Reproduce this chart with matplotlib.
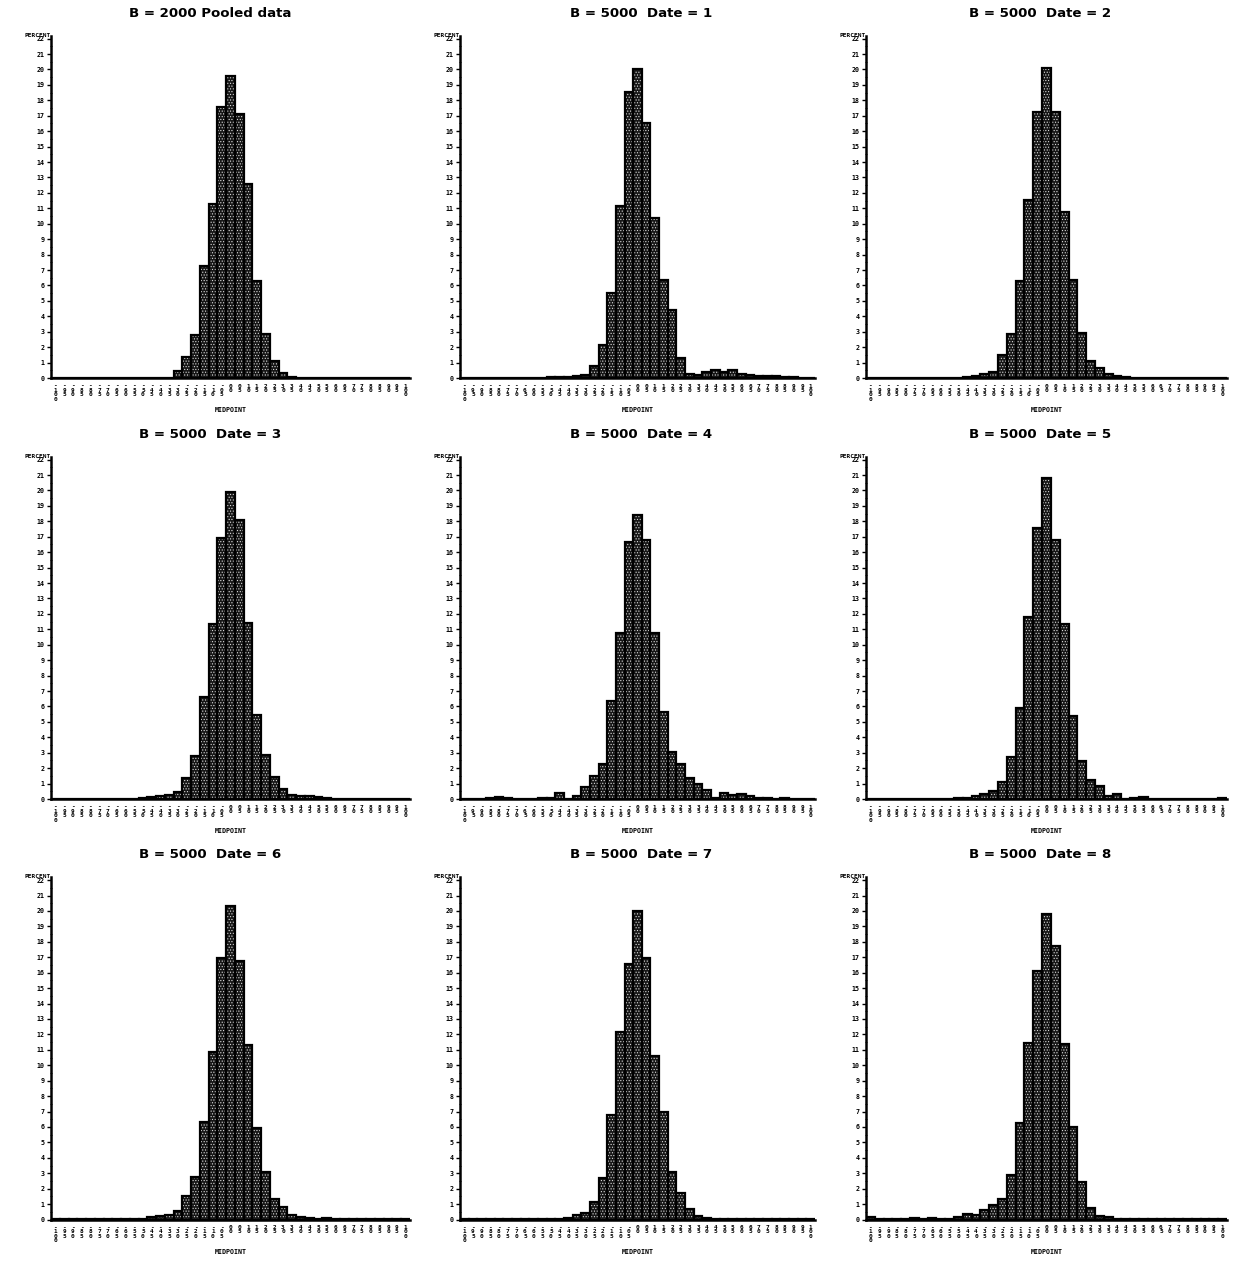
import matplotlib
matplotlib.use("Agg")
import matplotlib.pyplot as plt
from matplotlib.ticker import MultipleLocator

# Histogram bin midpoints shared by every panel
midpoints = [-100, -95, -90, -85, -80, -75, -70, -65, -60, -55,
             -50, -45, -40, -35, -30, -25, -20, -15, -10, -5,
             0,
             5, 10, 15, 20, 25, 30, 35, 40, 45, 50,
             55, 60, 65, 70, 75, 80, 85, 90, 95, 100]

# Percent of bootstrap replicates falling in each bin
pooled = [0, 0, 0, 0, 0, 0, 0, 0, 0, 0,
          0, 0, 0, 0.03, 0.47, 1.37, 2.78, 7.26, 11.26, 17.56,
          19.60,
          17.10, 12.60, 6.28, 2.82, 1.07, 0.32, 0.05, 0, 0, 0,
          0, 0, 0, 0, 0, 0, 0, 0, 0, 0]

date1 = [0.01, 0.01, 0.01, 0.02, 0.02, 0.02, 0.02, 0.02, 0.02, 0.03,
         0.05, 0.05, 0.08, 0.15, 0.18, 0.75, 2.16, 5.50, 11.16, 18.55,
         20.00,
         16.50, 10.40, 6.36, 4.42, 1.29, 0.28, 0.17, 0.39, 0.52, 0.41,
         0.50, 0.28, 0.19, 0.15, 0.13, 0.11, 0.05, 0.05, 0.03, 0.02]

date2 = [0.01, 0.01, 0.01, 0.01, 0.02, 0.02, 0.02, 0.02, 0.02, 0.02,
         0.03, 0.05, 0.15, 0.28, 0.41, 1.52, 2.84, 6.31, 11.55, 17.24,
         20.10,
         17.24, 10.78, 6.37, 2.91, 1.11, 0.62, 0.23, 0.13, 0.05, 0.03,
         0.02, 0.02, 0.02, 0.02, 0.02, 0.01, 0.01, 0.01, 0.01, 0.01]

date3 = [0.01, 0.02, 0.01, 0.01, 0.01, 0.01, 0.01, 0.01, 0.01, 0.02,
         0.05, 0.10, 0.17, 0.26, 0.47, 1.33, 2.78, 6.64, 11.35, 16.94,
         19.87,
         18.10, 11.41, 5.44, 2.85, 1.41, 0.66, 0.28, 0.17, 0.20, 0.15,
         0.05, 0.03, 0.03, 0.03, 0.02, 0.02, 0.02, 0.02, 0.02, 0.02]

date4 = [0.02, 0.02, 0.03, 0.06, 0.12, 0.08, 0.03, 0.02, 0.02, 0.06,
         0.08, 0.41, 0.02, 0.17, 0.79, 1.47, 2.24, 6.35, 10.79, 16.67,
         18.38,
         16.80, 10.75, 5.66, 3.03, 2.24, 1.39, 1.00, 0.60, 0.09, 0.41,
         0.23, 0.34, 0.17, 0.04, 0.08, 0.03, 0.06, 0.03, 0.03, 0.03]

date5 = [0.02, 0.02, 0.02, 0.03, 0.02, 0.02, 0.02, 0.02, 0.02, 0.03,
         0.05, 0.08, 0.17, 0.34, 0.51, 1.10, 2.72, 5.87, 11.79, 17.55,
         20.83,
         16.79, 11.34, 5.40, 2.49, 1.23, 0.87, 0.19, 0.32, 0.02, 0.04,
         0.15, 0.03, 0.02, 0.02, 0.02, 0.02, 0.02, 0.02, 0.02, 0.05]

date6 = [0.02, 0.02, 0.02, 0.02, 0.02, 0.02, 0.02, 0.02, 0.02, 0.03,
         0.06, 0.13, 0.21, 0.32, 0.53, 1.53, 2.77, 6.32, 10.87, 16.98,
         20.30,
         16.74, 11.30, 5.94, 3.10, 1.32, 0.81, 0.26, 0.19, 0.10, 0.04,
         0.10, 0.03, 0.03, 0.03, 0.03, 0.03, 0.03, 0.03, 0.03, 0.05]

date7 = [0.02, 0.02, 0.02, 0.02, 0.02, 0.02, 0.02, 0.02, 0.02, 0.02,
         0.02, 0.03, 0.10, 0.30, 0.43, 1.15, 2.69, 6.77, 12.14, 16.54,
         20.02,
         16.92, 10.58, 6.94, 3.06, 1.71, 0.66, 0.21, 0.10, 0.04, 0.03,
         0.03, 0.02, 0.02, 0.02, 0.02, 0.02, 0.02, 0.02, 0.02, 0.02]

date8 = [0.15, 0.03, 0.03, 0.03, 0.02, 0.08, 0.03, 0.10, 0.06, 0.04,
         0.15, 0.38, 0.26, 0.64, 0.91, 1.30, 2.87, 6.28, 11.43, 16.13,
         19.83,
         17.70, 11.38, 6.02, 2.43, 0.74, 0.23, 0.15, 0.06, 0.03, 0.03,
         0.02, 0.02, 0.02, 0.02, 0.02, 0.02, 0.02, 0.02, 0.01, 0.01]

titles = ["B = 2000 Pooled data",
          "B = 5000  Date = 1", "B = 5000  Date = 2", "B = 5000  Date = 3",
          "B = 5000  Date = 4", "B = 5000  Date = 5", "B = 5000  Date = 6",
          "B = 5000  Date = 7", "B = 5000  Date = 8"]
series = [pooled, date1, date2, date3, date4, date5, date6, date7, date8]

y_ticks = list(range(0, 23))


def stacked(v):
    """Midpoint label written one character per line."""
    s = f"{abs(v):02d}"
    if v < 0:
        s = "-" + s
    return "\n".join(s)


# Figure geometry in pixels
W, H, DPI = 1233, 1261, 100
col_left = [51, 460, 866]
col_width = [359, 355, 361]
row_base = [378, 799, 1219.5]
ax_height = 342.5
title_x = [210, 641, 1040]

mono = "DejaVu Sans Mono"
plt.rcParams["hatch.linewidth"] = 0.5

fig = plt.figure(figsize=(W / DPI, H / DPI), dpi=DPI)
fig.patch.set_facecolor("white")

for i, (title, vals) in enumerate(zip(titles, series)):
    r, c = divmod(i, 3)
    ax = fig.add_axes([col_left[c] / W, (H - row_base[r]) / H,
                       col_width[c] / W, ax_height / H])

    # dotted fill, then solid outline on top
    ax.bar(midpoints, vals, width=5, color="#161616", edgecolor="#dcdcdc",
           hatch="......", linewidth=0, zorder=2)
    ax.bar(midpoints, vals, width=5, fill=False, edgecolor="black",
           linewidth=1.6, zorder=3)

    ax.set_xlim(-102.5, 102.5)
    ax.set_ylim(0, 22.2)

    for side in ("top", "right"):
        ax.spines[side].set_visible(False)
    for side in ("left", "bottom"):
        ax.spines[side].set_linewidth(1.8)
        ax.spines[side].set_zorder(4)

    ax.set_yticks(y_ticks)
    ax.set_yticklabels([str(t) for t in y_ticks], fontsize=4.8,
                       family=mono, fontweight="bold")
    ax.yaxis.set_minor_locator(MultipleLocator(0.5))
    ax.tick_params(axis="y", which="major", length=3, width=1.0,
                   direction="out", pad=1.5)
    ax.tick_params(axis="y", which="minor", length=1.5, width=0.6,
                   direction="inout")

    ax.set_xticks(midpoints)
    ax.set_xticklabels([stacked(v) for v in midpoints], fontsize=4.4,
                       family=mono, fontweight="bold")
    for lab in ax.get_xticklabels():
        lab.set_linespacing(0.85)
    ax.tick_params(axis="x", length=0, pad=4.0)

    ax.annotate("MIDPOINT", xy=(0.5, 0), xycoords="axes fraction",
                xytext=(0, -32 * 0.72), textcoords="offset points",
                ha="center", va="center", fontsize=4.8, family=mono,
                fontweight="bold")
    ax.annotate("PERCENT", xy=(0, 22), xycoords=("axes fraction", "data"),
                xytext=(0, 2.5), textcoords="offset points",
                ha="right", va="center", fontsize=4.4, family=mono,
                fontweight="bold")

    ty = (H - (row_base[r] - ax_height - 22)) / H
    fig.text(title_x[c] / W, ty, title, ha="center", va="center",
             fontsize=9.6, fontweight="bold", family="DejaVu Sans")

fig.savefig("out.png", dpi=DPI, facecolor="white")
